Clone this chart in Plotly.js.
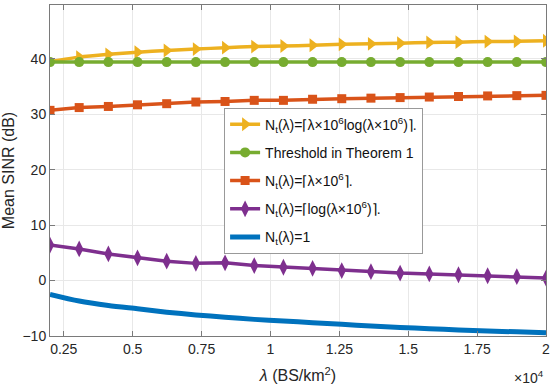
<!DOCTYPE html>
<html>
<head>
<meta charset="utf-8">
<script src="https://cdn.plot.ly/plotly-3.0.1.min.js"></script>
<style>
  html, body { margin: 0; padding: 0; background: #fff; }
  #chart { width: 554px; height: 392px; }
</style>
</head>
<body>
<div id="chart"></div>
<script>
// BS density lambda (BS/km^2)
var lambda = [2000, 3059, 4118, 5176, 6235, 7294, 8353, 9412, 10471,
              11529, 12588, 13647, 14706, 15765, 16824, 17882, 18941, 20000];

// Mean SINR (dB) for each scheme
var sinrLogScaled = [39.5, 40.3, 40.8, 41.2, 41.5, 41.75, 42.0, 42.2, 42.3,
                     42.45, 42.6, 42.7, 42.8, 42.95, 43.0, 43.1, 43.15, 43.25];
var sinrThreshold = [39.4, 39.4, 39.4, 39.4, 39.4, 39.4, 39.4, 39.4, 39.4,
                     39.4, 39.4, 39.4, 39.4, 39.4, 39.4, 39.4, 39.4, 39.4];
var sinrLinear    = [30.7, 31.2, 31.4, 31.7, 31.9, 32.2, 32.3, 32.5, 32.5,
                     32.7, 32.8, 32.9, 33.0, 33.1, 33.2, 33.3, 33.35, 33.4];
var sinrLog       = [6.4, 5.7, 4.8, 4.1, 3.5, 3.1, 3.2, 2.7, 2.4,
                     2.2, 1.8, 1.6, 1.35, 1.2, 1.05, 0.87, 0.7, 0.45];
var sinrSingle    = [-2.5, -3.7, -4.5, -5.1, -5.7, -6.2, -6.6, -7.0, -7.3,
                     -7.6, -7.9, -8.2, -8.45, -8.7, -8.9, -9.1, -9.25, -9.4];

var xTickVals = [2500, 5000, 7500, 10000, 12500, 15000, 17500, 20000];
var xTickText = ["0.25", "0.5", "0.75", "1", "1.25", "1.5", "1.75", "2"];
var yTickVals = [-10, 0, 10, 20, 30, 40];

var names = [
  "N<sub>t</sub>(λ)=⌈λ×10<sup>6</sup>log(λ×10<sup>6</sup>)⌉.",
  "Threshold in Theorem 1",
  "N<sub>t</sub>(λ)=⌈λ×10<sup>6</sup>⌉.",
  "N<sub>t</sub>(λ)=⌈log(λ×10<sup>6</sup>)⌉.",
  "N<sub>t</sub>(λ)=1"
];

const chartdata = [
  { x: lambda, y: sinrLogScaled, name: names[0], legendgroup: "a", mode: "lines+markers",
    line: { color: "#EDB120", width: 3.5, shape: "spline", smoothing: 0.6 },
    marker: { symbol: "triangle-right", size: 12, color: "#EDB120" } },
  { x: lambda, y: sinrThreshold, name: names[1], legendgroup: "b", mode: "lines+markers",
    line: { color: "#77AC30", width: 3.5 },
    marker: { symbol: "circle", size: 10, color: "#77AC30" } },
  { x: lambda, y: sinrLinear, name: names[2], legendgroup: "c", mode: "lines+markers",
    line: { color: "#D95319", width: 3.5 },
    marker: { symbol: "square", size: 9, color: "#D95319" } },
  { x: lambda, y: sinrLog, name: names[3], legendgroup: "d", mode: "lines+markers",
    line: { color: "#7E2F8E", width: 3.5 },
    marker: { symbol: "diamond-tall", size: 12, color: "#7E2F8E" } },
  { x: lambda, y: sinrSingle, name: names[4], legendgroup: "e", mode: "lines",
    line: { color: "#0072BD", width: 5, shape: "spline", smoothing: 0.8 } }
];

var axisCommon = {
  showline: true, mirror: "ticks", linecolor: "#7a7a7a", linewidth: 1,
  ticks: "inside", ticklen: 5, tickcolor: "#7a7a7a",
  showgrid: true, gridcolor: "#e8e8e8", gridwidth: 1, zeroline: false,
  tickfont: { family: "Liberation Sans, Arial, sans-serif", size: 14, color: "#262626" }
};

const layout = {
  width: 554, height: 392,
  margin: { l: 50, r: 8, t: 5, b: 56 },
  paper_bgcolor: "#fff", plot_bgcolor: "#fff",
  font: { family: "Liberation Sans, Arial, sans-serif", color: "#262626" },
  showlegend: true,
  legend: {
    x: 0.351, y: 0.69, xanchor: "left", yanchor: "top",
    traceorder: "grouped", tracegroupgap: 7,
    bgcolor: "#fff", bordercolor: "#999", borderwidth: 1,
    font: { size: 14, color: "#111" }
  },
  xaxis: Object.assign({}, axisCommon, {
    range: [2000, 20000], tickvals: xTickVals, ticktext: xTickText,
    title: { text: "<i>λ</i> (BS/km<sup>2</sup>)", standoff: 14,
             font: { size: 16, color: "#262626" } }
  }),
  yaxis: Object.assign({}, axisCommon, {
    range: [-10, 49.7], tickvals: yTickVals,
    title: { text: "Mean SINR (dB)", standoff: 6,
             font: { size: 16, color: "#262626" } }
  }),
  annotations: [{
    xref: "paper", yref: "paper", x: 1.0, y: -0.125, xanchor: "right", yanchor: "middle",
    text: "×10<sup>4</sup>", showarrow: false,
    font: { size: 14, color: "#262626" }
  }]
};

Plotly.newPlot("chart", chartdata, layout, { displayModeBar: false, staticPlot: true });
</script>
</body>
</html>
